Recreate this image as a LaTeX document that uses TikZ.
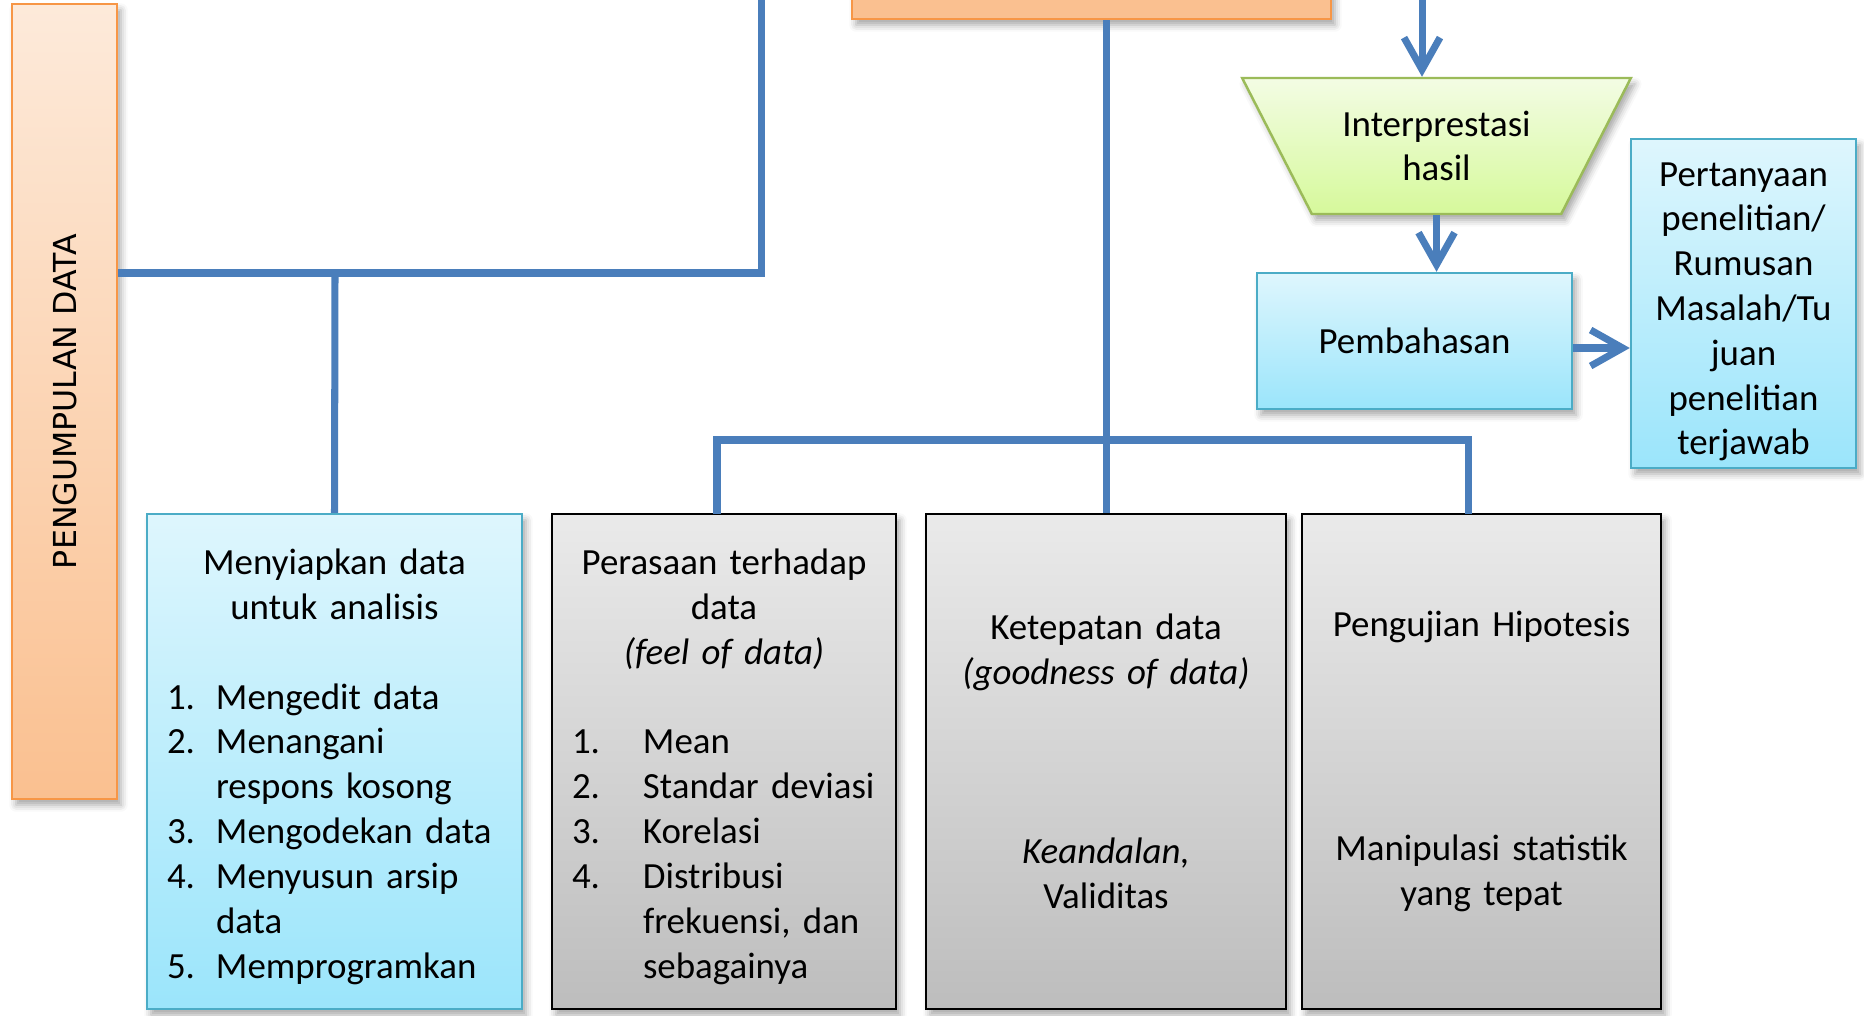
\documentclass[tikz,border=0pt]{standalone}
\usepackage{fontspec}
\usepackage{graphicx}
\setmainfont{Carlito}
\newfontfamily\judulfont{DejaVu Sans}
\usetikzlibrary{shapes.geometric,arrows.meta,shadows.blur}
\definecolor{garis}{RGB}{74, 126, 187}
\definecolor{oranye}{RGB}{247, 150, 70}
\definecolor{oranyeA}{RGB}{253, 234, 218}
\definecolor{oranyeB}{RGB}{250, 192, 144}
\definecolor{biru}{RGB}{75, 172, 198}
\definecolor{biruA}{RGB}{222, 246, 253}
\definecolor{biruB}{RGB}{155, 229, 251}
\definecolor{abuA}{RGB}{234, 234, 234}
\definecolor{abuB}{RGB}{189, 189, 189}
\definecolor{hijau}{RGB}{155, 187, 89}
\definecolor{hijauA}{RGB}{243, 252, 228}
\definecolor{hijauB}{RGB}{214, 249, 155}

\begin{document}
\begin{tikzpicture}[x=0.1mm, y=-0.1mm,
    every node/.style={font=\fontsize{10.5}{12.75}\selectfont, inner sep=2mm},
    bayang/.style={blur shadow={shadow xshift=0.4mm, shadow yshift=-0.6mm, shadow blur steps=4, shadow opacity=35}},
    kotakbiru/.style={draw=biru, line width=0.7pt, top color=biruA, bottom color=biruB, bayang, align=center},
    kotakabu/.style={draw=black, line width=0.65pt, top color=abuA, bottom color=abuB, bayang, align=center, minimum height=49.5mm},
    kotakoranye/.style={draw=oranye, line width=0.7pt, top color=oranyeA, bottom color=oranyeB, bayang},
    hubung/.style={draw=garis, line width=2pt},
    panah/.style={hubung, -{Straight Barb[length=3.2mm, width=3.6mm, line width=2pt]}}]
  \useasboundingbox (0,0) rectangle (1864,1015);

  \node[kotakoranye, minimum width=10.5mm, minimum height=79.5mm, inner sep=0pt] (kumpul) at (64.5,401.5)
    {\rotatebox{90}{\judulfont\fontsize{9}{11}\selectfont PENGUMPULAN DATA}};
  \node[kotakoranye, top color=oranyeB, minimum width=47.9mm, minimum height=9.9mm] (olah) at (1091.5,-30.5) {};

  \node[trapezium, trapezium stretches=true, shape border rotate=180, draw=hijau, line width=0.7pt,
    top color=hijauA, bottom color=hijauB, bayang, align=center,
    minimum width=38.9mm, minimum height=13.6mm] (tafsir) at (1436.5,146) {Interprestasi\\hasil};
  \node[kotakbiru, minimum width=31.5mm, minimum height=13.6mm] (bahas) at (1414.5,341) {Pembahasan};
  \node[kotakbiru, text width=19.5mm, inner xsep=1.5mm, inner ysep=0pt, minimum height=32.9mm] (tanya) at (1743.5,303.5)
    {\rule{0pt}{11.5pt}Pertanyaan\\penelitian/\\Rumusan\\Masalah/Tu\\juan\\penelitian\\terjawab};

  \node[kotakbiru, text width=33.5mm, minimum height=49.5mm] (siap) at (334.5,761.5)
    {Menyiapkan data\\untuk analisis\\[\baselineskip]
    \makebox[\linewidth][l]{\begin{tabular}[t]{@{}p{4.9mm}@{}l@{}}
    1.&Mengedit data\\2.&Menangani\\&respons kosong\\3.&Mengodekan data\\4.&Menyusun arsip\\&data\\5.&Memprogramkan\\[-5pt]
    \end{tabular}}};
  \node[kotakabu, text width=30.4mm] (rasa) at (724,761.5)
    {Perasaan terhadap\\data\\\textit{(feel of data)}\\[\baselineskip]
    \makebox[\linewidth][l]{\begin{tabular}[t]{@{}p{7.1mm}@{}l@{}}
    1.&Mean\\2.&Standar deviasi\\3.&Korelasi\\4.&Distribusi\\&frekuensi, dan\\&sebagainya\\[-5pt]
    \end{tabular}}};
  \node[kotakabu, text width=32mm] (tepat) at (1106,761.5)
    {Ketepatan data\\\textit{(goodness of data)}\\[3\baselineskip]\textit{Keandalan,}\\Validitas};
  \node[kotakabu, text width=31.9mm] (uji) at (1481.5,761.5)
    {Pengujian Hipotesis\\[4\baselineskip]Manipulasi statistik\\yang tepat};

  \coordinate (atas1) at (761,-10);
  \coordinate (atas2) at (1422,-10);
  \coordinate (simpul1) at (335,273);
  \coordinate (simpul2) at (1106,440);
  \coordinate (kaki1) at (717,514);
  \coordinate (kaki2) at (1468,514);

  \draw[hubung] (kumpul.east |- simpul1) -- (simpul1 -| atas1) -- (atas1);
  \draw[hubung] (simpul1) -- (siap.north);
  \draw[hubung] (olah.south -| simpul2) -- (tepat.north);
  \draw[hubung] (kaki1) -- (kaki1 |- simpul2) -- (kaki2 |- simpul2) -- (kaki2);
  \draw[panah] (atas2) -- (atas2 |- tafsir.north);
  \draw[panah] (tafsir.south) -- (tafsir.south |- bahas.north);
  \draw[panah] ([yshift=-0.7mm]bahas.east) -- ([yshift=-0.7mm]bahas.east -| tanya.west);
\end{tikzpicture}
\end{document}
